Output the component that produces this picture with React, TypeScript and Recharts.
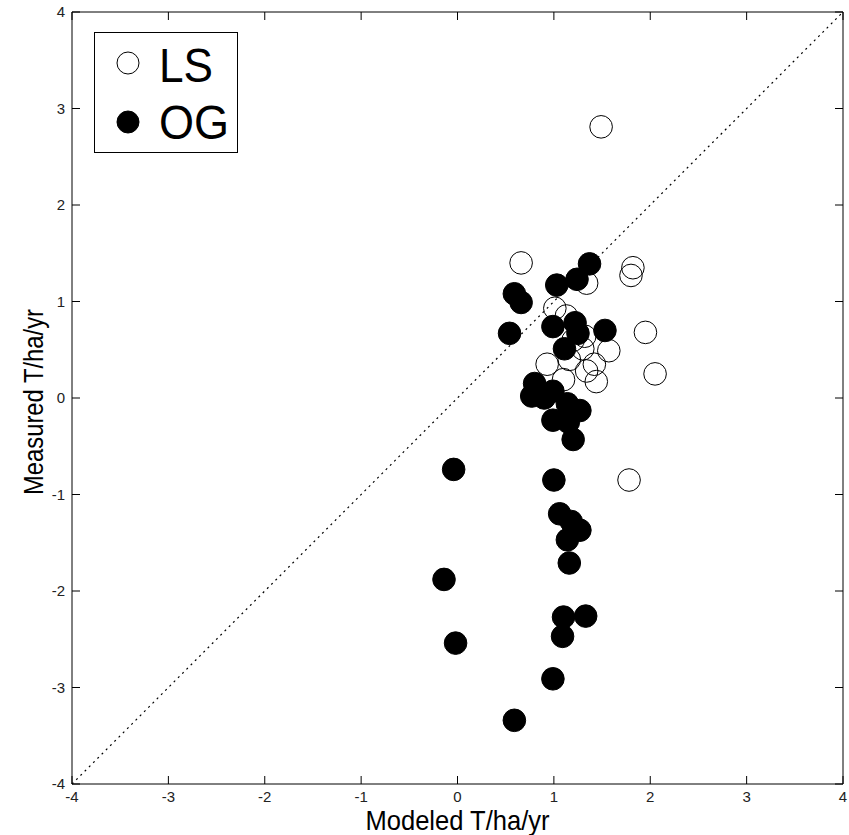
import React from "react";
import {
  ScatterChart,
  Scatter,
  XAxis,
  YAxis,
  ReferenceLine,
  Legend,
  Label,
} from "recharts";

// ---- data ----
const X_TICKS = [-4, -3, -2, -1, 0, 1, 2, 3, 4];
const Y_TICKS = [-4, -3, -2, -1, 0, 1, 2, 3, 4];
const X_LABEL = "Modeled T/ha/yr";
const Y_LABEL = "Measured T/ha/yr";
const SERIES_NAMES = ["LS", "OG"];

const lsModeled = [1.49, 0.66, 1.82, 1.8, 1.34, 1.01, 1.13, 1.95, 2.05, 1.78, 1.32, 1.3, 1.57, 0.93, 1.16, 1.1, 1.34, 1.44, 1.42, 1.2];
const lsMeasured = [2.81, 1.4, 1.35, 1.27, 1.19, 0.93, 0.85, 0.68, 0.25, -0.85, 0.64, 0.51, 0.49, 0.35, 0.4, 0.19, 0.28, 0.17, 0.35, 0.6];

const ogModeled = [1.37, 1.24, 1.03, 0.59, 0.66, 0.54, 0.99, 1.22, 1.25, 1.53, 1.11, 0.8, 0.77, 0.9, 0.99, 1.14, 1.27, 0.99, 1.15, 1.2, -0.04, 1.0, 1.06, 1.18, 1.27, 1.14, 1.16, -0.14, 1.1, 1.33, 1.09, -0.02, 0.99, 0.59];
const ogMeasured = [1.39, 1.23, 1.17, 1.08, 0.99, 0.67, 0.74, 0.78, 0.67, 0.7, 0.51, 0.15, 0.02, 0.0, 0.07, -0.06, -0.13, -0.23, -0.25, -0.43, -0.74, -0.85, -1.2, -1.28, -1.37, -1.47, -1.71, -1.88, -2.27, -2.26, -2.47, -2.54, -2.91, -3.34];

const lsData = lsModeled.map((x, i) => ({ x, y: lsMeasured[i] }));
const ogData = ogModeled.map((x, i) => ({ x, y: ogMeasured[i] }));

// ---- layout ----
const WIDTH = 849;
const HEIGHT = 835;
const MARGIN = { top: 12, right: 6, bottom: 0, left: 0 };
const YAXIS_W = 72;
const XAXIS_H = 51;
const PLOT_W = WIDTH - MARGIN.left - MARGIN.right - YAXIS_W;
const PLOT_H = HEIGHT - MARGIN.top - MARGIN.bottom - XAXIS_H;
const TICK = 8;
const R = 11.3;
const FONT = "'Liberation Sans', Arial, sans-serif";

const XTick = (p: any) => {
  const { x, y, payload } = p;
  return (
    <g>
      <line x1={x} x2={x} y1={y} y2={y - TICK} stroke="#000" />
      <line x1={x} x2={x} y1={y - PLOT_H} y2={y - PLOT_H + TICK} stroke="#000" />
      <text x={x} y={y + 18} textAnchor="middle" fontSize={15} fontFamily={FONT} fill="#222">
        {payload.value}
      </text>
    </g>
  );
};

const YTick = (p: any) => {
  const { x, y, payload } = p;
  return (
    <g>
      <line x1={x} x2={x + TICK} y1={y} y2={y} stroke="#000" />
      <line x1={x + PLOT_W} x2={x + PLOT_W - TICK} y1={y} y2={y} stroke="#000" />
      <text x={x - 7} y={y + 5} textAnchor="end" fontSize={15} fontFamily={FONT} fill="#222">
        {payload.value}
      </text>
    </g>
  );
};

const XLabel = (props: any) => {
  const vb = props.viewBox;
  return (
    <text
      x={vb.x + vb.width / 2}
      y={vb.y + 46}
      textAnchor="middle"
      fontSize={28}
      fontFamily={FONT}
      fill="#000"
      textLength={184}
      lengthAdjust="spacingAndGlyphs"
    >
      {X_LABEL}
    </text>
  );
};

const YLabel = (props: any) => {
  const vb = props.viewBox;
  const cx = vb.x + 43;
  const cy = vb.y + vb.height / 2 + 4;
  return (
    <text
      x={cx}
      y={cy}
      transform={`rotate(-90 ${cx} ${cy})`}
      textAnchor="middle"
      fontSize={28}
      fontFamily={FONT}
      fill="#000"
      textLength={186}
      lengthAdjust="spacingAndGlyphs"
    >
      {Y_LABEL}
    </text>
  );
};

const OpenDot = (p: any) => (
  <circle cx={p.cx} cy={p.cy} r={R} fill="none" stroke="#000" strokeWidth={1} />
);
const FilledDot = (p: any) => (
  <circle cx={p.cx} cy={p.cy} r={R} fill="#000" stroke="#000" strokeWidth={1} />
);

const LegendBox = () => (
  <div
    style={{
      width: 144,
      height: 121,
      border: "1px solid #000",
      background: "#fff",
      boxSizing: "border-box",
    }}
  >
    <svg width={142} height={119} style={{ display: "block" }}>
      <circle cx={33} cy={30} r={11} fill="none" stroke="#000" />
      <text x={64} y={49} fontSize={48} fontFamily={FONT} textLength={54} lengthAdjust="spacingAndGlyphs">
        {SERIES_NAMES[0]}
      </text>
      <circle cx={33} cy={89} r={11} fill="#000" stroke="#000" />
      <text x={64} y={106} fontSize={48} fontFamily={FONT} textLength={70} lengthAdjust="spacingAndGlyphs">
        {SERIES_NAMES[1]}
      </text>
    </svg>
  </div>
);

export default function App() {
  return (
    <div style={{ position: "absolute", left: 0, top: 0, width: WIDTH, height: HEIGHT, background: "#fff" }}>
      <ScatterChart width={WIDTH} height={HEIGHT} margin={MARGIN}>
        <XAxis
          type="number"
          dataKey="x"
          domain={[-4, 4]}
          ticks={X_TICKS}
          interval={0}
          allowDataOverflow
          height={XAXIS_H}
          tickSize={0}
          tickMargin={0}
          tickLine={false}
          axisLine={{ stroke: "#000", strokeWidth: 1 }}
          tick={<XTick />}
        >
          <Label content={<XLabel />} />
        </XAxis>
        <YAxis
          type="number"
          dataKey="y"
          domain={[-4, 4]}
          ticks={Y_TICKS}
          interval={0}
          allowDataOverflow
          width={YAXIS_W}
          tickSize={0}
          tickMargin={0}
          tickLine={false}
          axisLine={{ stroke: "#000", strokeWidth: 1 }}
          tick={<YTick />}
        >
          <Label content={<YLabel />} />
        </YAxis>
        <ReferenceLine y={4} stroke="#000" strokeWidth={1} />
        <ReferenceLine x={4} stroke="#000" strokeWidth={1} />
        <ReferenceLine
          segment={[
            { x: -4, y: -4 },
            { x: 4, y: 4 },
          ]}
          stroke="#000"
          strokeWidth={1.2}
          strokeDasharray="2 4"
        />
        <Scatter name={SERIES_NAMES[0]} data={lsData} shape={<OpenDot />} isAnimationActive={false} />
        <Scatter name={SERIES_NAMES[1]} data={ogData} shape={<FilledDot />} isAnimationActive={false} />
        <Legend
          layout="horizontal"
          verticalAlign="middle"
          align="center"
          content={<LegendBox />}
          wrapperStyle={{ position: "absolute", left: 94, top: 32, width: 144, height: 121 }}
        />
      </ScatterChart>
    </div>
  );
}
